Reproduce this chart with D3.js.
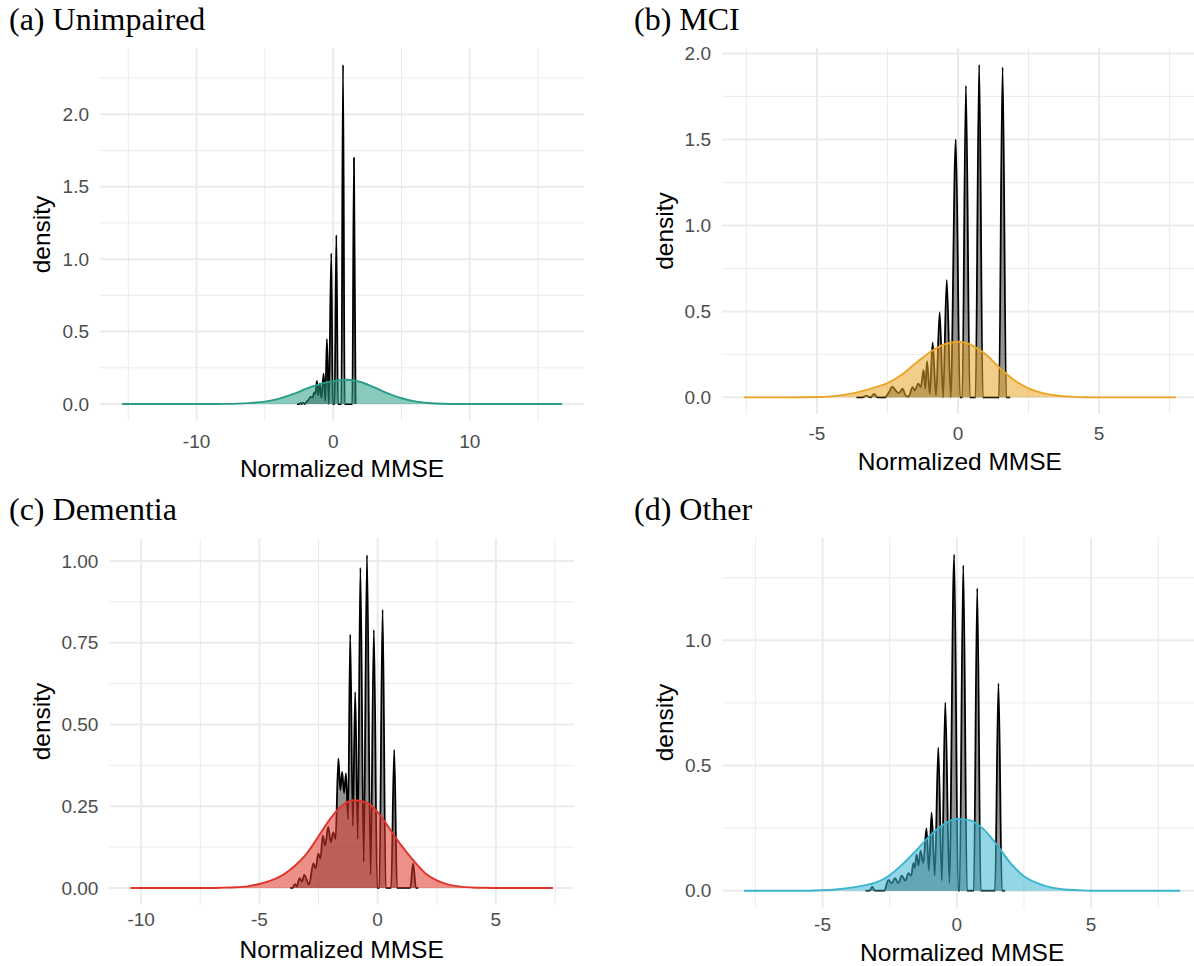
<!DOCTYPE html>
<html>
<head>
<meta charset="utf-8">
<script src="https://cdn.jsdelivr.net/npm/d3@7"></script>
<style>
  html, body { margin: 0; padding: 0; background: #ffffff; }
  svg { display: block; }
  .tick-label { font-family: "Liberation Sans", Arial, Helvetica, sans-serif; fill: #4d4d4d; }
  .axis-title { font-family: "Liberation Sans", Arial, Helvetica, sans-serif; fill: #000000; }
  .panel-title { font-family: "Liberation Serif", "Times New Roman", serif; fill: #000000; }
</style>
</head>
<body>
<svg id="fig" width="1194" height="966"></svg>
<script>
// ---- Panel titles and group colours ----
const panelTitles = ["(a) Unimpaired", "(b) MCI", "(c) Dementia", "(d) Other"];
const groupColors = ["#2a9d89", "#eaa526", "#e0352a", "#3ab4cf"];

// ---- Smoothed (normal-fit) densities: x grid and density values ----
const unimpairedSmoothX = [-15.46, -9, -8, -7, -6, -5, -4, -3, -2, -1, 0, 1, 2, 3, 4, 5, 6, 7, 8, 9, 10, 16.75];
const unimpairedSmoothY = [0, 0, 0.001, 0.003, 0.008, 0.017, 0.036, 0.066, 0.104, 0.137, 0.158, 0.168, 0.152, 0.115, 0.074, 0.040, 0.018, 0.007, 0.002, 0.0005, 0, 0];

const mciSmoothX = [-7.6, -6, -5, -4.5, -4, -3.5, -3, -2.5, -2, -1.5, -1, -0.5, 0, 0.5, 1, 1.5, 2, 2.5, 3, 3.5, 4, 4.5, 5, 7.73];
const mciSmoothY = [0, 0, 0.002, 0.006, 0.016, 0.032, 0.055, 0.083, 0.131, 0.198, 0.262, 0.308, 0.323, 0.303, 0.248, 0.168, 0.099, 0.052, 0.025, 0.011, 0.004, 0.001, 0, 0];

const dementiaSmoothX = [-10.45, -7, -6.5, -6, -5.5, -5, -4.5, -4, -3.5, -3, -2.5, -2, -1.5, -1, -0.5, 0, 0.5, 1, 1.5, 2, 2.5, 3, 3.5, 4, 4.5, 5, 7.41];
const dementiaSmoothY = [0, 0, 0.001, 0.002, 0.005, 0.012, 0.023, 0.040, 0.068, 0.105, 0.158, 0.212, 0.252, 0.268, 0.262, 0.232, 0.182, 0.130, 0.085, 0.046, 0.023, 0.010, 0.004, 0.0015, 0.0005, 0, 0];

const otherSmoothX = [-7.92, -6, -5, -4.5, -4, -3.5, -3, -2.5, -2, -1.5, -1, -0.5, 0, 0.5, 1, 1.5, 2, 2.5, 3, 3.5, 4, 4.5, 5, 8.32];
const otherSmoothY = [0, 0, 0.002, 0.005, 0.011, 0.020, 0.033, 0.062, 0.108, 0.162, 0.220, 0.264, 0.287, 0.281, 0.245, 0.182, 0.110, 0.058, 0.030, 0.013, 0.005, 0.002, 0, 0];

// ---- Raw (discrete-score) densities: vertices of the spiky curve ----
const unimpairedRawX = [-2.65, -2.5, -2.4, -2.3, -2.2, -2.1, -1.95, -1.8, -1.65, -1.5, -1.4, -1.3, -1.19, -1.1, -0.98, -0.86, -0.70, -0.58, -0.46, -0.32, -0.14, -0.03, 0.10, 0.23, 0.35, 0.60, 0.72, 0.84, 1.40, 1.52, 1.64];
const unimpairedRawY = [0, 0, 0.008, 0, 0.010, 0, 0.015, 0.030, 0.050, 0.045, 0.080, 0.070, 0.160, 0.060, 0.140, 0.040, 0.210, 0.020, 0.450, 0, 1.040, 0, 0, 1.166, 0, 0, 2.340, 0, 0, 1.700, 0];

const mciRawX = [-3.6, -3.4, -3.25, -3.1, -2.98, -2.85, -2.6, -2.45, -2.33, -2.21, -2.09, -1.97, -1.85, -1.75, -1.61, -1.53, -1.41, -1.32, -1.22, -1.16, -1.10, -1.0, -0.90, -0.78, -0.65, -0.53, -0.40, -0.26, -0.08, 0.07, 0.15, 0.28, 0.42, 0.62, 0.75, 0.88, 1.45, 1.58, 1.71, 1.85];
const mciRawY = [0, 0, 0.010, 0, 0.020, 0, 0, 0.030, 0.062, 0.040, 0.025, 0.050, 0.010, 0.005, 0.060, 0.040, 0.080, 0.060, 0.160, 0.050, 0.210, 0.020, 0.318, 0.010, 0.495, 0, 0.683, 0, 1.500, 0, 0, 1.813, 0, 0, 1.935, 0, 0, 1.920, 0, 0];

const dementiaRawX = [-3.7, -3.6, -3.5, -3.42, -3.3, -3.2, -3.1, -2.9, -2.72, -2.62, -2.51, -2.42, -2.32, -2.22, -2.09, -1.98, -1.88, -1.78, -1.66, -1.58, -1.50, -1.42, -1.34, -1.25, -1.16, -1.05, -0.95, -0.84, -0.73, -0.59, -0.45, -0.30, -0.16, -0.02, 0.07, 0.21, 0.34, 0.57, 0.70, 0.82, 1.38, 1.50, 1.62, 1.72];
const dementiaRawY = [0, 0, 0.012, 0.005, 0.030, 0.020, 0.040, 0.010, 0.075, 0.060, 0.105, 0.090, 0.160, 0.130, 0.187, 0.140, 0.170, 0.150, 0.396, 0.300, 0.355, 0.290, 0.350, 0.210, 0.775, 0.190, 0.599, 0.150, 0.979, 0.080, 1.018, 0.040, 0.789, 0, 0, 0.851, 0, 0, 0.423, 0, 0, 0.075, 0, 0];

const otherRawX = [-3.4, -3.25, -3.15, -3.05, -2.7, -2.55, -2.42, -2.3, -2.18, -2.05, -1.92, -1.8, -1.7, -1.62, -1.57, -1.50, -1.43, -1.35, -1.25, -1.13, -1.04, -0.94, -0.82, -0.69, -0.56, -0.43, -0.28, -0.10, 0.05, 0.10, 0.24, 0.38, 0.63, 0.76, 0.89, 1.42, 1.55, 1.68, 1.8];
const otherRawY = [0, 0, 0.015, 0, 0, 0.043, 0.030, 0.050, 0.030, 0.060, 0.040, 0.070, 0.060, 0.110, 0.090, 0.145, 0.100, 0.160, 0.110, 0.249, 0.080, 0.312, 0.060, 0.571, 0.040, 0.752, 0.030, 1.343, 0, 0, 1.300, 0, 0, 1.208, 0, 0, 0.828, 0, 0];

// ---- Tick values and labels ----
const unimpairedXTicks = [-10, 0, 10];
const unimpairedYTicks = [0, 0.5, 1.0, 1.5, 2.0];
const unimpairedYLabels = ["0.0", "0.5", "1.0", "1.5", "2.0"];

const mciXTicks = [-5, 0, 5];
const mciYTicks = [0, 0.5, 1.0, 1.5, 2.0];
const mciYLabels = ["0.0", "0.5", "1.0", "1.5", "2.0"];

const dementiaXTicks = [-10, -5, 0, 5];
const dementiaYTicks = [0, 0.25, 0.5, 0.75, 1.0];
const dementiaYLabels = ["0.00", "0.25", "0.50", "0.75", "1.00"];

const otherXTicks = [-5, 0, 5];
const otherYTicks = [0, 0.5, 1.0];
const otherYLabels = ["0.0", "0.5", "1.0"];

const xAxisTitle = "Normalized MMSE";
const yAxisTitle = "density";

// ---- Page layout: one entry per panel ----
const panels = [
  { title: panelTitles[0], color: groupColors[0],
    sx: unimpairedSmoothX, sy: unimpairedSmoothY, rx: unimpairedRawX, ry: unimpairedRawY,
    xt: unimpairedXTicks, yt: unimpairedYTicks, yl: unimpairedYLabels,
    box: { left: 100, right: 584, top: 48, bottom: 421 },
    origin: 0, titleY: 30, tickY: 448, xTitleY: 477 },
  { title: panelTitles[1], color: groupColors[1],
    sx: mciSmoothX, sy: mciSmoothY, rx: mciRawX, ry: mciRawY,
    xt: mciXTicks, yt: mciYTicks, yl: mciYLabels,
    box: { left: 722, right: 1197.7, top: 48, bottom: 414 },
    origin: 623, titleY: 30, tickY: 440, xTitleY: 470 },
  { title: panelTitles[2], color: groupColors[2],
    sx: dementiaSmoothX, sy: dementiaSmoothY, rx: dementiaRawX, ry: dementiaRawY,
    xt: dementiaXTicks, yt: dementiaYTicks, yl: dementiaYLabels,
    box: { left: 109.4, right: 574, top: 538.4, bottom: 904.6 },
    origin: 0, titleY: 520, tickY: 926, xTitleY: 958 },
  { title: panelTitles[3], color: groupColors[3],
    sx: otherSmoothX, sy: otherSmoothY, rx: otherRawX, ry: otherRawY,
    xt: otherXTicks, yt: otherYTicks, yl: otherYLabels,
    box: { left: 722.3, right: 1202.1, top: 537.6, bottom: 907.5 },
    origin: 623, titleY: 520, tickY: 931, xTitleY: 961 }
];

const svg = d3.select("#fig");

// ggplot-style minor breaks: midpoints between majors, extended across the domain
function minorBreaks(majors, domain) {
  const step = majors[1] - majors[0];
  const out = [];
  for (let v = majors[0] - step / 2; v <= domain[1]; v += step) {
    if (v >= domain[0]) out.push(v);
  }
  for (let v = majors[0] - step * 1.5; v >= domain[0]; v -= step) out.push(v);
  return out;
}

panels.forEach(p => {
  const g = svg.append("g");
  const b = p.box;

  // 5% expansion on both axes, as in ggplot's default continuous scales
  const xmin = p.sx[0], xmax = p.sx[p.sx.length - 1];
  const xpad = (xmax - xmin) * 0.05;
  const ymax = Math.max(d3.max(p.ry), d3.max(p.sy));
  const ypad = ymax * 0.05;

  const x = d3.scaleLinear().domain([xmin - xpad, xmax + xpad]).range([b.left, b.right]);
  const y = d3.scaleLinear().domain([-ypad, ymax + ypad]).range([b.bottom, b.top]);

  // Grid lines
  const grid = g.append("g");
  const xMinor = minorBreaks(p.xt, x.domain());
  const yMinor = minorBreaks(p.yt, y.domain()).filter(v => v > 0);
  grid.selectAll("line.yminor").data(yMinor).join("line")
    .attr("x1", b.left).attr("x2", b.right)
    .attr("y1", d => y(d)).attr("y2", d => y(d))
    .attr("stroke", "#ebebeb").attr("stroke-width", 1);
  grid.selectAll("line.xminor").data(xMinor).join("line")
    .attr("y1", b.top).attr("y2", b.bottom)
    .attr("x1", d => x(d)).attr("x2", d => x(d))
    .attr("stroke", "#ebebeb").attr("stroke-width", 1);
  grid.selectAll("line.ymajor").data(p.yt).join("line")
    .attr("x1", b.left).attr("x2", b.right)
    .attr("y1", d => y(d)).attr("y2", d => y(d))
    .attr("stroke", "#ebebeb").attr("stroke-width", 2);
  grid.selectAll("line.xmajor").data(p.xt).join("line")
    .attr("y1", b.top).attr("y2", b.bottom)
    .attr("x1", d => x(d)).attr("x2", d => x(d))
    .attr("stroke", "#ebebeb").attr("stroke-width", 2);

  // Raw density (black), drawn underneath the smoothed density
  const rawPts = p.rx.map((v, i) => [v, p.ry[i]]);
  const area = d3.area().x(d => x(d[0])).y0(y(0)).y1(d => y(d[1])).curve(d3.curveMonotoneX);
  const line = d3.line().x(d => x(d[0])).y(d => y(d[1])).curve(d3.curveMonotoneX);
  g.append("path").datum(rawPts).attr("d", area)
    .attr("fill", "#000000").attr("fill-opacity", 0.42);
  g.append("path").datum(rawPts).attr("d", line)
    .attr("fill", "none").attr("stroke", "#000000").attr("stroke-width", 1.8)
    .attr("stroke-linejoin", "round");

  // Smoothed density in the group colour
  const smoothPts = p.sx.map((v, i) => [v, p.sy[i]]);
  g.append("path").datum(smoothPts).attr("d", area)
    .attr("fill", p.color).attr("fill-opacity", 0.55);
  g.append("path").datum(smoothPts).attr("d", line)
    .attr("fill", "none").attr("stroke", p.color).attr("stroke-width", 1.9);

  // Axis tick labels
  g.selectAll("text.xt").data(p.xt).join("text")
    .attr("class", "tick-label")
    .attr("x", d => x(d)).attr("y", p.tickY)
    .attr("text-anchor", "middle").attr("font-size", 19)
    .text(d => String(d));
  g.selectAll("text.yt").data(p.yt).join("text")
    .attr("class", "tick-label")
    .attr("x", b.left - 11).attr("y", d => y(d)).attr("dy", "0.35em")
    .attr("text-anchor", "end").attr("font-size", 19)
    .text((d, i) => p.yl[i]);

  // Axis titles
  g.append("text").attr("class", "axis-title")
    .attr("x", (b.left + b.right) / 2)
    .attr("y", p.xTitleY)
    .attr("text-anchor", "middle").attr("font-size", 24.5)
    .text(xAxisTitle);
  g.append("text").attr("class", "axis-title")
    .attr("transform", `translate(${p.origin + 50},${(b.top + b.bottom) / 2}) rotate(-90)`)
    .attr("text-anchor", "middle").attr("font-size", 24.5)
    .text(yAxisTitle);

  // Panel title
  svg.append("text").attr("class", "panel-title")
    .attr("x", p.origin === 0 ? 9 : 634).attr("y", p.titleY)
    .attr("font-size", 32)
    .text(p.title);
});
</script>
</body>
</html>
